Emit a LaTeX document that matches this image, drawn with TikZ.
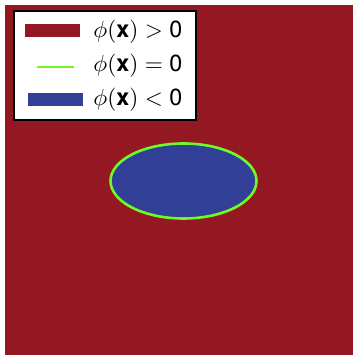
\documentclass[tikz,border=0pt]{standalone}
\usepackage{fontspec}
\setsansfont{TeX Gyre Heros}
\definecolor{redc}{RGB}{147,24,34}
\definecolor{bluec}{RGB}{49,64,150}
\definecolor{greenc}{RGB}{110,250,40}
\tikzset{
  lbl/.style={anchor=west, inner sep=0pt, scale=2.33, transform shape},
  swatch/.style={draw=none},
}
\newcommand{\bx}{\textsf{\bfseries x}}
\begin{document}
\begin{tikzpicture}[x=1pt,y=-1pt]
\fill[white] (0,0) rectangle (356,355);
\useasboundingbox (0,0) rectangle (356,355);
\fill[redc] (5,5) rectangle (353,355);
% legend
\draw[line width=2.2pt, fill=white] (14,11) rectangle (196,120);
\fill[redc, swatch] (25,24) rectangle (80,37);
\coordinate (g1) at (37,67);
\coordinate (g2) at (74,67);
\draw[greenc, line width=2.8pt] (g1) -- (g2);
\fill[bluec, swatch] (28,93) rectangle (83,106);
\node[lbl] (t1) at (93,32) {$\phi(\bx) > \textsf{0}$};
\node[lbl] (t2) at (93,66) {$\phi(\bx) = \textsf{0}$};
\node[lbl] (t3) at (93,100) {$\phi(\bx) < \textsf{0}$};
% zero level set
\filldraw[fill=bluec, draw=greenc, line width=2.6pt] (183.5,181) ellipse (73 and 37.5);
\end{tikzpicture}
\end{document}
